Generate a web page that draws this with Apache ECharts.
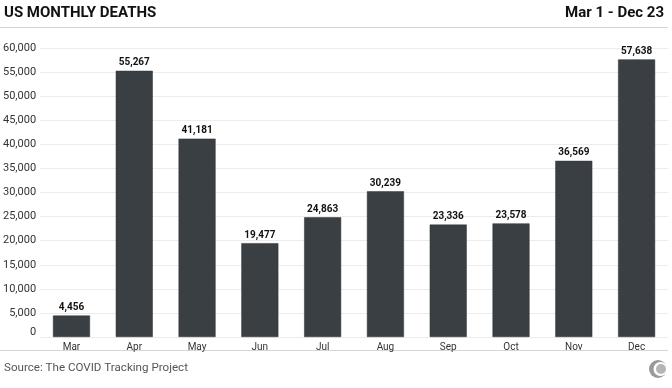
<!DOCTYPE html>
<html><head><meta charset="utf-8">
<script src="https://cdn.jsdelivr.net/npm/echarts@6/dist/echarts.min.js"></script>
<style>html,body{margin:0;padding:0;background:#fff}#c{width:672px;height:388px}</style>
</head><body><div id="c"></div>
<script>
const months = ['Mar','Apr','May','Jun','Jul','Aug','Sep','Oct','Nov','Dec'];
const deaths = [4456,55267,41181,19477,24863,30239,23336,23578,36569,57638];
const yTicks = [0,5000,10000,15000,20000,25000,30000,35000,40000,45000,50000,55000,60000];

const chart = echarts.init(document.getElementById('c'), null, {renderer:'canvas'});
const fmt = v => v.toLocaleString('en-US');
chart.setOption({
  animation:false,
  textStyle:{fontFamily:'Roboto'},
  grid:{left:37,right:4,top:48,bottom:51},
  xAxis:{type:'category',data:months,
    axisLine:{show:false},axisTick:{show:false},
    axisLabel:{color:'#333',fontSize:10,margin:5}},
  yAxis:{type:'value',min:yTicks[0],max:yTicks[yTicks.length-1],interval:5000,
    axisLine:{show:false},axisTick:{show:false},
    splitLine:{lineStyle:{color:'#ececec',width:1}},
    axisLabel:{color:'#333',fontSize:11,margin:4,
      formatter:v=> v===0 ? '{z|0}' : fmt(v),
      rich:{z:{fontSize:11,color:'#333',padding:[0,0,10,0]}}}},
  series:[{type:'bar',data:deaths,barWidth:37,
    itemStyle:{color:'#3a3f44',borderColor:'#2c3034',borderWidth:0.5},
    label:{show:true,position:'top',distance:3,fontSize:10,fontWeight:'bold',color:'#111',
      formatter:p=>fmt(p.value)}}],
  graphic:[
    {type:'text',left:4,top:6,style:{text:'US MONTHLY DEATHS',font:'bold 15px Roboto',fill:'#111'}},
    {type:'text',right:8,top:6,style:{text:'Mar 1 - Dec 23',font:'bold 15px Roboto',fill:'#111'}},
    {type:'line',shape:{x1:0,y1:27.5,x2:668,y2:27.5},style:{stroke:'#d6d6d6',lineWidth:1}},
    {type:'line',shape:{x1:0,y1:350.5,x2:668,y2:350.5},style:{stroke:'#d6d6d6',lineWidth:1}},
    {type:'text',left:4,top:362,style:{text:'Source: The COVID Tracking Project',font:'11.6px Roboto',fill:'#555'}},
    {type:'circle',shape:{cx:658,cy:369,r:9},style:{fill:'#9a9a9a'}},
    {type:'circle',shape:{cx:660.5,cy:369,r:7},style:{fill:'#fff'}},
    {type:'circle',shape:{cx:661,cy:369,r:5},style:{fill:'#b5b5b5'}}
  ]
});
</script></body></html>
